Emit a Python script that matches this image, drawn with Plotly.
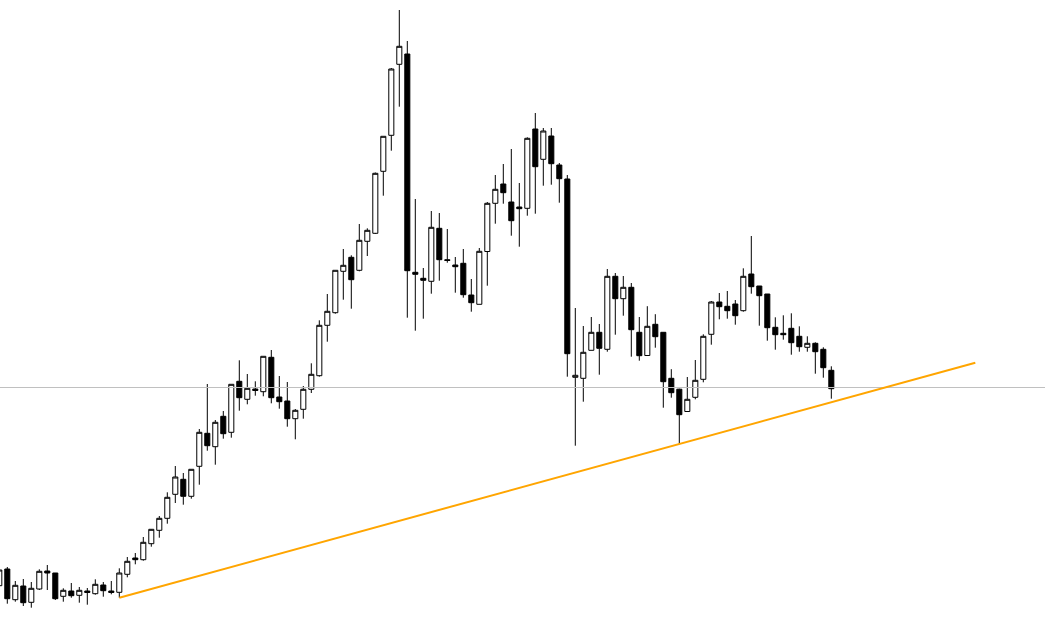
import plotly.graph_objects as go

# candle index (one candle per bar slot)
idx = list(range(105))

opens = [38.3, 55, 24.3, 38, 21.7, 35, 53, 51, 27.7, 33, 28.7, 33, 30.3, 39, 33, 31.7, 49.7, 66, 64.3, 80.3,
         93.7, 105.7, 129.7, 144.7, 127.7, 157.7, 190.7, 177.3, 207.7, 191.7, 242.7, 224.7, 235, 232.3, 266.7, 227, 223, 205.3, 214.7, 234.7,
         248.3, 298.7, 311.3, 352.7, 366.7, 353.7, 382.7, 390.7, 452.7, 488.7, 559.7, 570, 351.7, 345.7, 342.7, 395.7, 364.3, 359, 360.7, 329,
         319.7, 372.5, 420.7, 440, 422, 417, 415.7, 495, 464.7, 488, 459, 445, 246.7, 245.7, 273.7, 291.7, 274.7, 347.7, 325.3, 336.7,
         291.7, 268.5, 299.7, 291.7, 245.7, 234.8, 212.5, 226.7, 244.7, 289.7, 322, 317.7, 320, 313.3, 350, 338, 330, 296.7, 290.7, 295.7,
         287.7, 276.7, 280.7, 274.7, 253.7]
highs = [57, 57, 43, 45, 42, 54.7, 59, 51, 35.7, 41, 37, 36, 44.7, 42, 43, 55.7, 67, 71, 87, 95,
         108, 131.7, 158, 151, 154.7, 195, 240, 204, 213, 239.7, 263.7, 250, 242.7, 267.7, 274, 248, 242, 215, 238, 260.7,
         303.7, 330, 353.7, 375, 368.7, 400, 395.7, 451.5, 487.7, 556, 614, 583, 425, 356, 413, 411, 395, 367, 375, 345,
         376, 422, 449, 460, 475, 441, 486.7, 511, 496, 496, 461, 449, 316, 298, 307, 300, 355, 351, 348, 341,
         307, 317.8, 309.8, 291.7, 254.8, 235.3, 247, 264, 289.7, 323, 331, 333, 324, 355.7, 388, 338, 330, 306.7, 308.7, 310.7,
         297.7, 287.7, 281.7, 276.7, 257.7]
lows = [35, 20.3, 22.3, 18, 16.3, 34, 34, 24, 22.3, 26.3, 21.3, 19.3, 29.3, 27.3, 29.7, 26.3, 46.7, 59.7, 63.3, 77.3,
        86.3, 100.3, 121, 119.3, 125.3, 139.3, 173.3, 159.3, 185.3, 186.3, 213.3, 219.7, 228.3, 227.7, 220.7, 215.3, 197.3, 184.7, 205.3, 231,
        247.3, 282.3, 310.3, 324.3, 315.3, 352.7, 368, 390, 428.3, 473.3, 517.3, 306.3, 293.3, 305.3, 330.3, 343.3, 361.3, 331.3, 326.3, 312.3,
        319.7, 338.3, 400.3, 420.3, 388.3, 377.3, 408.3, 410.3, 438.3, 439.3, 421.3, 247.3, 178.3, 222.3, 273.7, 249.3, 272.3, 289.3, 308.3, 267.3,
        263.3, 268.5, 276.3, 216.3, 226.3, 180, 212.5, 224.7, 241.7, 279.3, 304.7, 305.3, 299.3, 312.3, 330.3, 298.3, 283.3, 274.3, 284.3, 269.3,
        272.3, 272.3, 250.3, 246.3, 225.3]
closes = [54, 25.3, 38.7, 21.3, 35.7, 52.7, 51, 25.3, 33.7, 28.3, 33.7, 31.5, 39.7, 33.3, 31.5, 51, 62.7, 64.3, 81.7, 94.7,
          105.7, 126.7, 147, 127.7, 154.7, 191.7, 178.3, 201.7, 190.3, 239.7, 226.3, 235.7, 233.5, 267.7, 226.3, 222.3, 205.3, 213.7, 234.7, 249.7,
          298.7, 312.7, 353.7, 358.7, 344.3, 383.7, 393.7, 450.7, 487.7, 555, 577.7, 353.3, 349.7, 343.7, 396.7, 364.3, 363.5, 357.3, 329.3, 321.3,
          372.7, 420.7, 434.7, 431.3, 403.3, 415.3, 485.7, 457.3, 493, 460.3, 445.3, 270.3, 248.7, 271.7, 291.7, 275.7, 347.7, 325.3, 336.7, 294.3,
          268.3, 297.7, 287.3, 242.3, 231.3, 209.3, 224.7, 243.7, 287.7, 322, 317.3, 313.3, 308.3, 347.7, 337.3, 328.3, 296.3, 289.3, 289.3, 281.3,
          277.3, 280.7, 272.3, 256.3, 235.3]

# horizontal level and trend line anchors (candle indices)
level_price = 236.5
trend_start = 15
trend_pivot = 85
trend_end = 122

slope = (lows[trend_pivot] - lows[trend_start]) / (trend_pivot - trend_start)
trend_x = [trend_start, trend_end]
trend_y = [lows[trend_start], lows[trend_start] + slope * (trend_end - trend_start)]

fig = go.Figure()

fig.add_trace(go.Scatter(
    x=[-5, 140], y=[level_price, level_price], mode="lines",
    line=dict(color="#C0C0C0", width=1), hoverinfo="skip", showlegend=False))

fig.add_trace(go.Candlestick(
    x=idx, open=opens, high=highs, low=lows, close=closes,
    increasing=dict(line=dict(color="black", width=1), fillcolor="white"),
    decreasing=dict(line=dict(color="black", width=1), fillcolor="black"),
    whiskerwidth=0, showlegend=False))

fig.add_trace(go.Scatter(
    x=trend_x, y=trend_y, mode="lines",
    line=dict(color="#FFA500", width=2), hoverinfo="skip", showlegend=False))

fig.update_layout(
    width=1045, height=624,
    margin=dict(l=0, r=0, t=0, b=0),
    paper_bgcolor="white", plot_bgcolor="white",
    boxgap=0.3, boxgroupgap=0.1,
    xaxis=dict(range=[0.0875, 130.71], visible=False, rangeslider=dict(visible=False)),
    yaxis=dict(range=[0, 624], visible=False),
)

fig.write_html(
    "out.html",
    config=dict(displayModeBar=False),
    post_script="document.body.style.margin='0';document.body.style.overflow='hidden';",
)
